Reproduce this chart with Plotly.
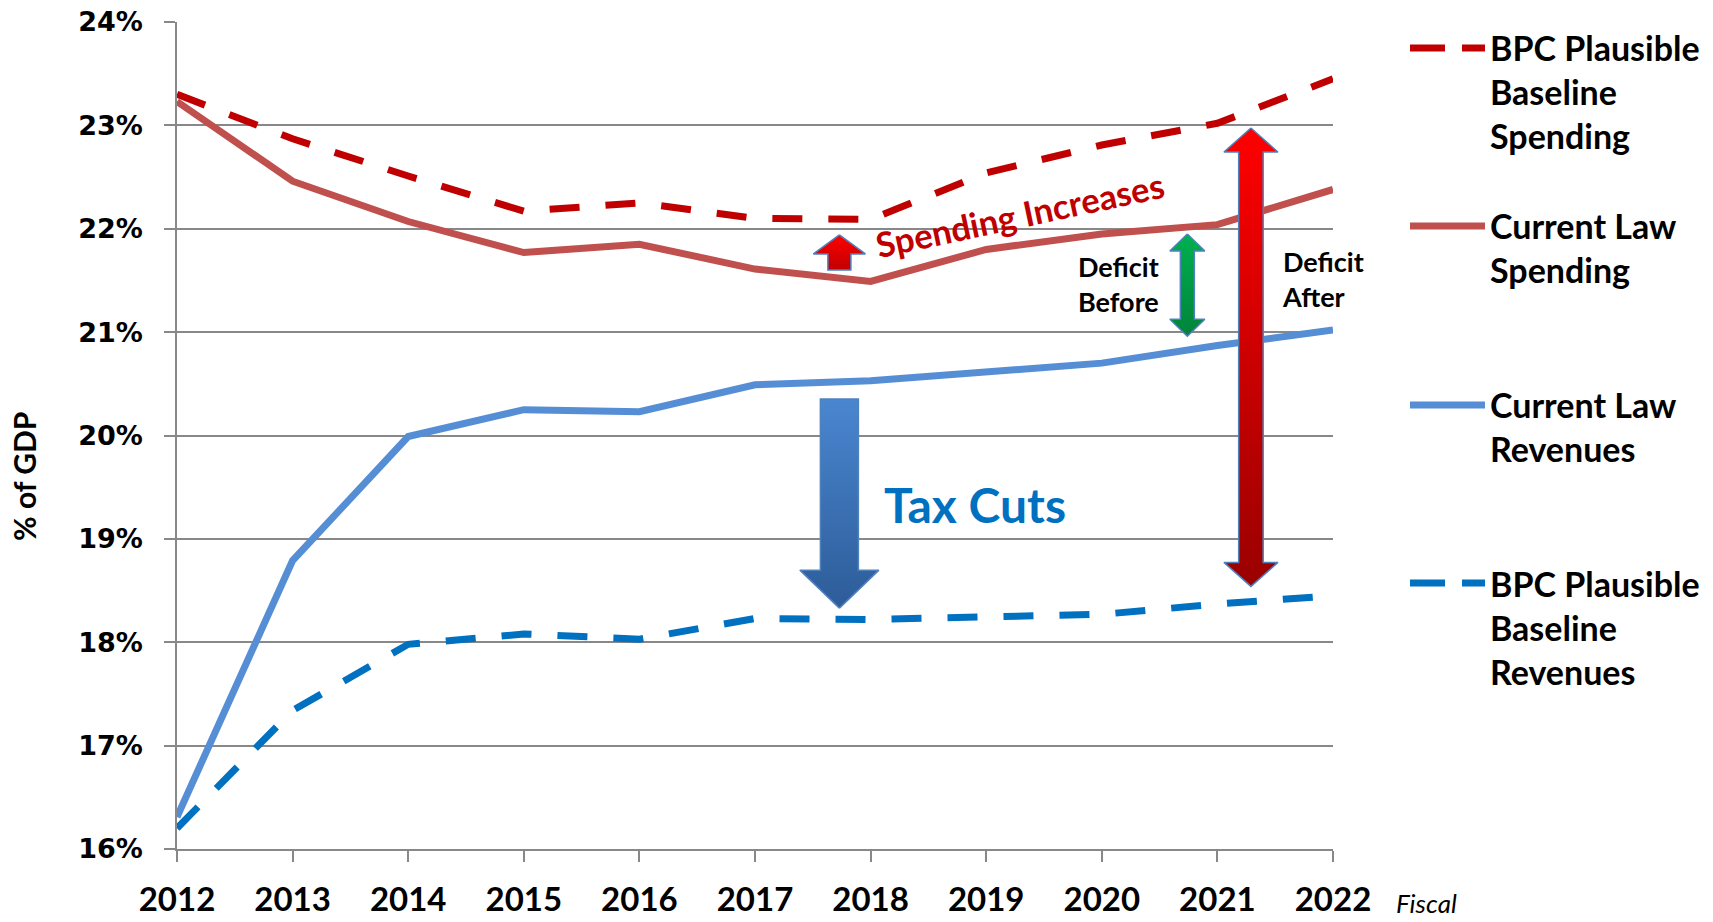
import plotly.graph_objects as go

# ---------------- data ----------------
years = [2012, 2013, 2014, 2015, 2016, 2017, 2018, 2019, 2020, 2021, 2022]
bpc_spending = [23.30, 22.87, 22.51, 22.17, 22.25, 22.10, 22.09, 22.54, 22.81, 23.02, 23.45]
cl_spending = [23.23, 22.46, 22.07, 21.77, 21.85, 21.61, 21.49, 21.80, 21.95, 22.04, 22.38]
cl_revenues = [16.31, 18.79, 19.99, 20.25, 20.23, 20.49, 20.53, 20.61, 20.70, 20.87, 21.02]
bpc_revenues = [16.20, 17.34, 17.98, 18.08, 18.03, 18.23, 18.22, 18.24, 18.27, 18.37, 18.45]

series_names = ["BPC Plausible<br>Baseline<br>Spending", "Current Law<br>Spending",
                "Current Law<br>Revenues", "BPC Plausible<br>Baseline<br>Revenues"]
series_colors = ["#C00000", "#C0504D", "#558ED5", "#0070C0"]
series_dashed = [True, False, False, True]
series_values = [bpc_spending, cl_spending, cl_revenues, bpc_revenues]

y_ticks = [16, 17, 18, 19, 20, 21, 22, 23, 24]

# ---------------- layout geometry ----------------
W, H = 1713, 922
M_L, M_R, M_T, M_B = 177, 380, 22, 73
PLOT_W = W - M_L - M_R
PLOT_H = H - M_T - M_B
PX_X = PLOT_W / (years[-1] - years[0])
PX_Y = PLOT_H / (y_ticks[-1] - y_ticks[0])

DASH = "30px,26px"
FONT_C = "Lato"

fig = go.Figure()

for name, vals, col, dashed in zip(series_names, series_values, series_colors, series_dashed):
    fig.add_trace(go.Scatter(
        x=years, y=vals, mode="lines", name=name.replace("<br>", " "),
        line=dict(color=col, width=7, dash=DASH if dashed else "solid"),
        showlegend=False, hoverinfo="skip"))


# ---------------- block arrows ----------------
def arrow_poly(xc, y_a, y_b, shaft_px, head_px, head_len_px, double=False):
    """Vertical block arrow from y_a (tail) to y_b (tip)."""
    sw = shaft_px / 2 / PX_X
    hw = head_px / 2 / PX_X
    hl = head_len_px / PX_Y
    d = 1 if y_b > y_a else -1
    base_b = y_b - d * hl
    if double:
        base_a = y_a + d * hl
        xs = [xc, xc + hw, xc + sw, xc + sw, xc + hw, xc, xc - hw, xc - sw, xc - sw, xc - hw, xc]
        ys = [y_b, base_b, base_b, base_a, base_a, y_a, base_a, base_a, base_b, base_b, y_b]
    else:
        xs = [xc, xc + hw, xc + sw, xc + sw, xc - sw, xc - sw, xc - hw, xc]
        ys = [y_b, base_b, base_b, y_a, y_a, base_b, base_b, y_b]
    return xs, ys


arrows = [
    # xc, tail, tip, shaft, head, head_len, double, bottom colour, top colour
    (2017.73, 20.354, 18.33, 38, 79, 38, False, "#2D5C98", "#4A86D0"),
    (2017.73, 21.60, 21.94, 23, 52, 19, False, "#C00000", "#FF0000"),
    (2020.74, 20.96, 21.95, 14, 35, 17, True, "#00843A", "#00B050"),
    (2021.29, 18.54, 22.975, 24.5, 54, 24, True, "#9A0000", "#FF0000"),
]
for xc, ya, yb, sp, hp, hl, dbl, cbot, ctop in arrows:
    xs, ys = arrow_poly(xc, ya, yb, sp, hp, hl, dbl)
    fig.add_trace(go.Scatter(
        x=xs, y=ys, mode="lines", fill="toself",
        line=dict(color="#4F81BD", width=1.5),
        fillgradient=dict(type="vertical", colorscale=[[0, cbot], [1, ctop]],
                          start=min(ya, yb), stop=max(ya, yb)),
        showlegend=False, hoverinfo="skip"))

# ---------------- annotations ----------------
ann = []
ann.append(dict(x=2019.29, y=22.14, xref="x", yref="y", text="Spending Increases",
                textangle=-12, showarrow=False, xanchor="center", yanchor="middle",
                font=dict(family=FONT_C, size=34.5, color="#C00000", weight="bold")))
ann.append(dict(x=2018.90, y=19.33, xref="x", yref="y", text="Tax Cuts", showarrow=False,
                font=dict(family=FONT_C, size=48, color="#0070C0", weight="bold")))
ann.append(dict(x=2019.78, y=21.465, xref="x", yref="y", text="Deficit<br>Before",
                showarrow=False, xanchor="left", align="left",
                font=dict(family=FONT_C, size=27, color="#000000", weight="bold")))
ann.append(dict(x=2021.54, y=21.51, xref="x", yref="y", text="Deficit<br>After",
                showarrow=False, xanchor="left", align="left",
                font=dict(family=FONT_C, size=27, color="#000000", weight="bold")))
# y axis title
ann.append(dict(x=(24 - M_L) / PLOT_W, y=(M_T + PLOT_H - 477) / PLOT_H, xref="paper", yref="paper",
                text="% of GDP", textangle=-90, showarrow=False,
                xanchor="center", yanchor="middle",
                font=dict(family=FONT_C, size=30, color="#000000", weight="bold")))
# Fiscal
ann.append(dict(x=(1426 - M_L) / PLOT_W, y=(M_T + PLOT_H - 921) / PLOT_H, xref="paper", yref="paper",
                text="<i>Fiscal</i>", showarrow=False, xanchor="center", yanchor="bottom",
                font=dict(family=FONT_C, size=26, color="#000000")))

# ---------------- manual legend ----------------
legend_first_line_y = [48, 226, 405, 583]
legend_lines = [3, 2, 2, 3]
LINE_GAP = 45
shapes = []
for name, col, dashed, fy, nl in zip(series_names, series_colors, series_dashed,
                                     legend_first_line_y, legend_lines):
    yp = (M_T + PLOT_H - fy) / PLOT_H
    shapes.append(dict(type="line", xref="paper", yref="paper",
                       x0=(1410 - M_L) / PLOT_W, x1=(1485 - M_L) / PLOT_W, y0=yp, y1=yp,
                       line=dict(color=col, width=7, dash="35px,17px" if dashed else "solid")))
    cy = fy + (nl - 1) * LINE_GAP / 2
    ann.append(dict(x=(1488 - M_L) / PLOT_W, y=(M_T + PLOT_H - cy + 1) / PLOT_H,
                    xref="paper", yref="paper", text=name, showarrow=False,
                    xanchor="left", yanchor="middle", align="left",
                    font=dict(family=FONT_C, size=34, color="#000000", weight="bold")))

fig.update_layout(
    width=W, height=H,
    margin=dict(l=M_L, r=M_R, t=M_T, b=M_B, autoexpand=False),
    paper_bgcolor="white", plot_bgcolor="white",
    annotations=ann, shapes=shapes,
    showlegend=False,
)
fig.update_xaxes(
    range=[years[0], years[-1]], tickvals=years, ticktext=[str(y) for y in years],
    showgrid=False, zeroline=False, showline=True, linecolor="#888888", linewidth=1.5,
    ticks="outside", ticklen=11, tickcolor="#888888", tickwidth=1.5,
    ticklabelstandoff=10, automargin=False,
    tickfont=dict(family=FONT_C, size=33, color="#000000", weight="bold"),
)
fig.update_yaxes(
    range=[y_ticks[0], y_ticks[-1]], tickvals=y_ticks, ticktext=[f"{v}%" for v in y_ticks],
    showgrid=True, gridcolor="#888888", gridwidth=1.5, zeroline=False,
    showline=True, linecolor="#888888", linewidth=1.5,
    ticks="outside", ticklen=11, tickcolor="#888888", tickwidth=1.5,
    ticklabelstandoff=16, automargin=False,
    tickfont=dict(family="DejaVu Sans", size=27, color="#000000", weight="bold"),
)

fig.write_html("out.html", config={"displayModeBar": False},
               post_script="document.body.style.margin='0';")
